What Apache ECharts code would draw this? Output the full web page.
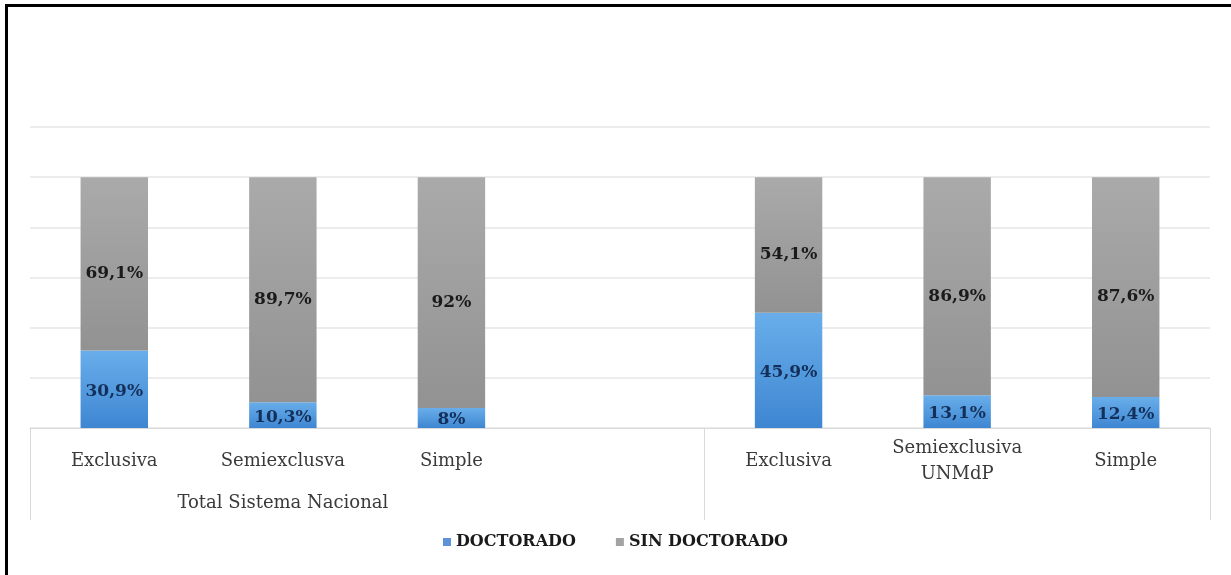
<!DOCTYPE html>
<html><head><meta charset="utf-8">
<script src="https://cdn.jsdelivr.net/npm/echarts@6/dist/echarts.min.js"></script>
<style>
html,body{margin:0;padding:0;background:#fff;overflow:hidden;}
#wrap{position:relative;width:1231px;height:575px;overflow:hidden;}
#c{width:1231px;height:575px;}
#ftop{position:absolute;left:5px;top:4px;width:1226px;height:3px;background:#000;pointer-events:none;}
#fleft{position:absolute;left:5px;top:4px;width:3px;height:571px;background:#000;pointer-events:none;}
</style></head>
<body>
<div id="wrap">
<div id="c"></div>
<div id="ftop"></div>
<div id="fleft"></div>
</div>
<script>
const categories = ['Exclusiva', 'Semiexclusva', 'Simple', '', 'Exclusiva', 'Semiexclusiva\nUNMdP', 'Simple'];
const groupLabels = ['', 'Total Sistema Nacional', '', '', '', '', ''];
const doctorado = [30.9, 10.3, 8, null, 45.9, 13.1, 12.4];
const sinDoctorado = [69.1, 89.7, 92, null, 54.1, 86.9, 87.6];
const seriesNames = ['DOCTORADO', 'SIN DOCTORADO'];

const serif = 'DejaVu Serif';
const fmt = p => (p.value == null ? '' : String(p.value).replace('.', ',') + '%');

const chart = echarts.init(document.getElementById('c'));
chart.setOption({
  animation: false,
  grid: {left: 30, right: 21, top: 127, bottom: 147},
  legend: {
    bottom: 20, left: 'center',
    itemWidth: 8, itemHeight: 8, itemGap: 40,
    icon: 'rect',
    textStyle: {fontFamily: serif, fontWeight: 'bold', fontSize: 16, color: '#1a1a1a'},
    data: [
      {name: seriesNames[0], itemStyle: {color: '#5b93d6'}},
      {name: seriesNames[1], itemStyle: {color: '#a3a3a3'}}
    ]
  },
  xAxis: [{
    type: 'category', data: categories, position: 'bottom',
    axisLine: {show: true, lineStyle: {color: '#d9d9d9', width: 1}},
    axisTick: {show: true, length: 92, lineStyle: {color: '#d9d9d9'},
      interval: (i) => i === 0 || i === 4},
    axisLabel: {interval: 0, margin: 33, verticalAlign: 'middle', lineHeight: 26,
      fontFamily: serif, fontSize: 18, color: '#3a3a3a'}
  }, {
    type: 'category', data: groupLabels, position: 'bottom',
    axisLine: {show: false}, axisTick: {show: false},
    axisLabel: {interval: 0, margin: 75, verticalAlign: 'middle',
      fontFamily: serif, fontSize: 18, color: '#3a3a3a'}
  }],
  yAxis: {
    type: 'value', min: 0, max: 120, interval: 20,
    axisLabel: {show: false}, axisLine: {show: false}, axisTick: {show: false},
    splitLine: {lineStyle: {color: '#e6e6e6', width: 1.5}}
  },
  series: [{
    name: seriesNames[0], type: 'bar', stack: 't', data: doctorado, barWidth: '40%',
    itemStyle: {color: new echarts.graphic.LinearGradient(0, 0, 0, 1, [
      {offset: 0, color: '#69aeea'}, {offset: 1, color: '#3e86d2'}])},
    label: {show: true, position: 'inside', offset: [0, 2], formatter: fmt,
      fontFamily: serif, fontWeight: 'bold', fontSize: 17, color: '#14305a'}
  }, {
    name: seriesNames[1], type: 'bar', stack: 't', data: sinDoctorado, barWidth: '40%',
    itemStyle: {color: new echarts.graphic.LinearGradient(0, 0, 0, 1, [
      {offset: 0, color: '#aaaaaa'}, {offset: 1, color: '#929292'}])},
    label: {show: true, position: 'inside', offset: [0, 10], formatter: fmt,
      fontFamily: serif, fontWeight: 'bold', fontSize: 17, color: '#1a1a1a'}
  }]
});
</script>
</body></html>
